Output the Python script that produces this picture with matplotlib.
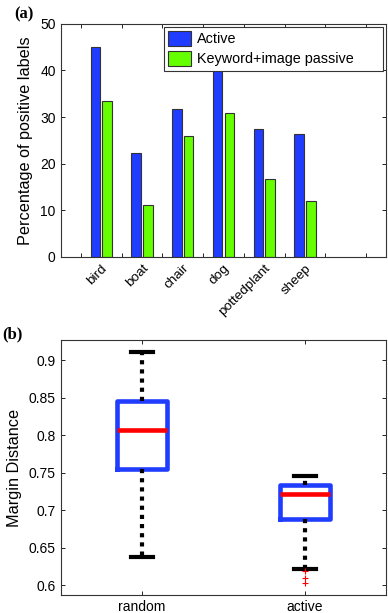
import matplotlib
matplotlib.use("Agg")
import matplotlib.pyplot as plt
from matplotlib.transforms import ScaledTranslation
import numpy as np

plt.rcParams['font.family'] = ['Liberation Sans', 'DejaVu Sans']

# (a) percentage of positive labels per category
categories = ['bird', 'boat', 'chair', 'dog', 'pottedplant', 'sheep']
active = [45.0, 22.3, 31.8, 41.5, 27.5, 26.3]
passive = [33.4, 11.2, 25.9, 30.8, 16.8, 12.0]
series_names = ['Active', 'Keyword+image passive']

# (b) margin distance box statistics
box_labels = ['random', 'active']
q1 = [0.755, 0.688]
med = [0.807, 0.722]
q3 = [0.845, 0.733]
whislo = [0.638, 0.621]
whishi = [0.911, 0.745]
fliers = [[], [0.619, 0.610, 0.603]]

blue = '#1f3cff'
green = '#66ff00'

fig = plt.figure(figsize=(3.88, 6.13), dpi=100)

# ---- panel (a)
ax1 = fig.add_axes([0.156, 0.581, 0.840, 0.380])
x = np.arange(1, len(categories) + 1)
w = 0.23
ax1.bar(x - 0.145, active, w, color=blue, edgecolor='#333333', linewidth=0.8, label=series_names[0])
ax1.bar(x + 0.145, passive, w, color=green, edgecolor='#333333', linewidth=0.8, label=series_names[1])
ax1.set_xlim(0, 8)
ax1.set_ylim(0, 50)
ax1.set_yticks([0, 10, 20, 30, 40, 50])
ax1.set_xticks(x)
ax1.set_xticklabels(categories, rotation=45, ha='right', va='top', rotation_mode='anchor', fontsize=9.7)
# shift the rotated labels a bit to the right, like the original
for lab in ax1.get_xticklabels():
    lab.set_transform(lab.get_transform() + ScaledTranslation(8 / 100, 0, fig.dpi_scale_trans))
ax1.set_xticks(np.arange(0.5, 8, 1), minor=True)
ax1.tick_params(axis='x', which='major', length=0, pad=4)
ax1.tick_params(axis='x', which='minor', direction='in', length=3, top=True, width=0.6)
ax1.tick_params(axis='y', direction='in', length=3, right=True, labelsize=10, width=0.6)
ax1.set_ylabel('Percentage of positive labels', fontsize=11.7, labelpad=5)
# matlab-style legend: wide box with empty space on the right
leg = ax1.legend(loc='upper left', bbox_to_anchor=(0.317, 0.798, 0.672, 0.189), mode='expand',
                 fontsize=10.4, frameon=True, fancybox=False,
                 edgecolor='#333333', framealpha=1, borderpad=0.3,
                 handlelength=1.6, handleheight=1.15, handletextpad=0.42,
                 labelspacing=0.35, borderaxespad=0)
leg.get_frame().set_linewidth(0.8)
for s in ax1.spines.values():
    s.set_linewidth(0.8)
    s.set_color('#333333')
fig.text(0.036, 0.989, '(a)', fontsize=12, fontweight='bold', family='Liberation Serif', va='top')

# ---- panel (b)
ax2 = fig.add_axes([0.156, 0.029, 0.840, 0.416])
stats = []
for i in range(len(box_labels)):
    stats.append(dict(label=box_labels[i], q1=q1[i], med=med[i], q3=q3[i],
                      whislo=whislo[i], whishi=whishi[i], fliers=fliers[i]))
ax2.bxp(stats, positions=[1, 2], widths=0.31, showfliers=True,
        boxprops=dict(color=blue, linewidth=3.3),
        medianprops=dict(color='red', linewidth=3.3),
        whiskerprops=dict(color='black', linewidth=3, linestyle=(0, (1, 1.2))),
        capprops=dict(color='black', linewidth=3),
        capwidths=0.14,
        flierprops=dict(marker='+', markeredgecolor='red', markersize=4, markeredgewidth=0.8))
ax2.set_xlim(0.5, 2.5)
ax2.set_ylim(0.5867, 0.9267)
ax2.set_yticks([0.6, 0.65, 0.7, 0.75, 0.8, 0.85, 0.9])
ax2.set_yticklabels(['0.6', '0.65', '0.7', '0.75', '0.8', '0.85', '0.9'])
ax2.tick_params(axis='both', direction='in', length=3, right=True, top=True, labelsize=10, width=0.6)
ax2.set_ylabel('Margin Distance', fontsize=11.7, labelpad=5)
for s in ax2.spines.values():
    s.set_linewidth(0.8)
    s.set_color('#333333')
fig.text(0.005, 0.468, '(b)', fontsize=12, fontweight='bold', family='Liberation Serif', va='top')

fig.savefig('out.png', dpi=100)
